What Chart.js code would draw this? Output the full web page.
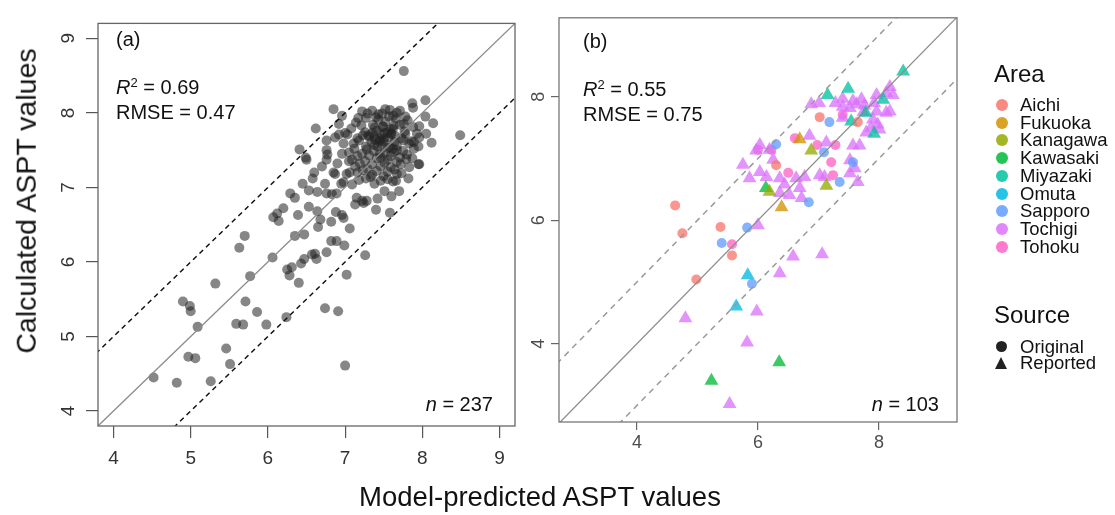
<!DOCTYPE html>
<html>
<head>
<meta charset="utf-8">
<script src="https://cdn.jsdelivr.net/npm/chart.js@4/dist/chart.umd.min.js"></script>
<style>
  body { margin: 0; background: #fff; }
  #wrap { position: relative; width: 1115px; height: 515px; font-family: "Liberation Sans", Arial, sans-serif; color: #111; }
  canvas { position: absolute; left: 0; top: 0; }
  .txt { position: absolute; white-space: nowrap; line-height: 1; }
  .ann { font-size: 20px; }
  .ann sup { font-size: 13px; vertical-align: 7px; line-height: 0; }
  .lg { font-size: 18.5px; }
  .lgt { font-size: 24px; }
  .dot { position: absolute; width: 12px; height: 12px; border-radius: 50%; }
  .tri { position: absolute; width: 0; height: 0; border-left: 6.5px solid transparent; border-right: 6.5px solid transparent; border-bottom: 12px solid #222; }
</style>
</head>
<body>
<div id="wrap">
  <canvas id="chartA" width="1115" height="515"></canvas>
  <canvas id="chartB" width="1115" height="515"></canvas>
</div>
<script>
// panel (a): all samples
const predA = [
  4.52, 4.82, 5.26, 4.97, 5.06, 5.46, 5.51, 7.00, 4.90, 4.99, 5.00, 5.09, 5.32, 5.71, 5.59, 5.68,
  5.86, 5.98, 6.24, 6.74, 6.91, 7.02, 7.26, 5.77, 6.06, 5.63, 5.70, 6.25, 6.31, 6.28, 6.40, 6.43,
  6.47, 6.57, 6.61, 6.63, 6.76, 6.35, 6.47, 6.82, 6.89, 6.99, 7.06, 6.65, 6.82,
  6.29, 6.53, 6.64, 6.74, 6.76, 6.83, 6.89, 6.53, 6.64, 6.68, 6.12, 6.07, 6.14, 6.39, 6.88, 6.96,
  6.98, 7.15, 7.24, 7.22, 7.28, 7.13, 7.42, 7.51, 7.58, 7.38, 7.33, 7.09, 6.98, 7.02, 6.85, 6.87,
  7.62, 7.66, 7.67, 7.95, 6.50, 6.76,
  7.76, 7.87, 8.04, 6.85, 6.96, 6.62, 6.41, 6.49, 7.17, 7.58, 7.29, 7.43, 7.67, 7.78, 8.04, 8.14,
  7.96, 8.49, 7.96, 7.89, 7.87, 7.96, 6.76, 6.76, 6.77, 6.87, 6.92, 6.98, 6.96, 7.06,
  7.22, 7.35, 7.48, 7.52, 7.62, 7.71, 7.40,
  7.14, 7.27, 7.36, 7.43, 7.57, 7.63, 7.66, 7.76, 7.81, 7.49,
  7.08, 7.21, 7.26, 7.38, 7.41, 7.49, 7.51, 7.59, 7.62, 7.71, 7.77, 7.88, 7.93,
  7.03, 7.16, 7.23, 7.31, 7.35, 7.45, 7.47, 7.56, 7.59, 7.65, 7.73, 7.78, 7.86,
  7.11, 7.18, 7.27, 7.34, 7.39, 7.47, 7.50, 7.58, 7.64, 7.67, 7.76, 7.83, 7.89,
  7.05, 7.12, 7.22, 7.28, 7.37, 7.42, 7.51, 7.55, 7.63, 7.67, 7.75, 7.80,
  7.09, 7.16, 7.26, 7.31, 7.41, 7.46, 7.55, 7.59, 7.67, 7.71, 7.79,
  7.13, 7.19, 7.29, 7.35, 7.46, 7.51, 7.59, 7.64, 7.72, 7.83,
  7.16, 7.23, 7.35, 7.41, 7.50, 7.55, 7.73,
  7.18, 7.27, 7.46, 7.55, 7.82,
  6.70, 6.60, 6.45, 6.58, 7.95, 8.05, 8.12, 7.88, 6.92, 7.00, 6.35, 6.20, 7.60, 7.70, 7.40, 6.90,
  7.05, 6.95, 7.38, 7.50, 7.45, 7.30, 7.60, 7.45, 7.55, 7.38, 7.62, 7.52
];
const calcA = [
  4.45, 4.38, 4.40, 4.73, 4.71, 4.84, 4.63, 4.61, 5.47, 5.41, 5.34, 5.13, 5.71, 5.47, 5.17, 5.16,
  5.33, 5.16, 5.26, 5.38, 5.34, 5.83, 6.09, 5.81, 6.06, 6.19, 6.35, 5.90, 5.93, 5.82, 5.72, 5.98,
  6.04, 6.10, 6.11, 6.04, 6.13, 6.35, 6.37, 6.28, 6.28, 6.22, 6.45, 6.47, 6.54,
  6.92, 6.96, 6.94, 7.05, 6.92, 6.91, 6.92, 6.74, 6.68, 6.57, 6.65, 6.60, 6.55, 6.63, 6.67, 6.63,
  6.59, 6.86, 6.79, 6.82, 6.82, 6.77, 6.85, 6.95, 6.66, 7.05, 7.14, 7.04, 7.07, 7.18, 7.20, 7.18,
  7.08, 7.09, 7.18, 7.31, 7.37, 7.37,
  8.56, 8.13, 8.17, 8.05, 7.96, 7.79, 7.51, 7.40, 7.93, 8.04, 7.99, 7.98, 8.00, 7.95, 7.95, 7.86,
  7.82, 7.70, 7.67, 7.52, 7.39, 7.31, 7.63, 7.50, 7.44, 7.67, 7.71, 7.59, 7.45, 7.20,
  8.02, 8.03, 7.99, 8.05, 7.96, 8.03, 7.94,
  7.87, 7.93, 7.84, 7.91, 7.95, 7.83, 7.92, 7.85, 7.90, 7.81,
  7.79, 7.83, 7.74, 7.80, 7.76, 7.82, 7.73, 7.78, 7.79, 7.84, 7.75, 7.81, 7.72,
  7.71, 7.66, 7.70, 7.68, 7.73, 7.65, 7.71, 7.67, 7.72, 7.69, 7.66, 7.72, 7.62,
  7.59, 7.63, 7.55, 7.61, 7.64, 7.58, 7.62, 7.54, 7.61, 7.56, 7.63, 7.59, 7.61,
  7.47, 7.52, 7.45, 7.51, 7.49, 7.55, 7.46, 7.53, 7.47, 7.50, 7.49, 7.44,
  7.37, 7.42, 7.35, 7.43, 7.39, 7.40, 7.37, 7.42, 7.34, 7.40, 7.38,
  7.28, 7.32, 7.25, 7.31, 7.28, 7.33, 7.27, 7.24, 7.31, 7.27,
  7.20, 7.23, 7.17, 7.22, 7.15, 7.21, 7.19,
  7.10, 7.12, 7.09, 7.11, 7.12,
  7.28, 7.20, 7.05, 7.12, 7.55, 7.72, 7.60, 8.07, 7.85, 7.73, 6.86, 6.72, 6.88, 6.95, 6.70, 7.32,
  7.35, 7.05, 7.57, 7.65, 7.45, 7.70, 7.72, 7.62, 7.74, 7.68, 7.52, 7.88
];

// panel (b): subset by area and source
const areaNames = ["Aichi", "Fukuoka", "Kanagawa", "Kawasaki", "Miyazaki", "Omuta", "Sapporo", "Tochigi", "Tohoku"];
const areaColors = ["#F8766D", "#D39200", "#93AA00", "#00BA38", "#00C19F", "#00B9E3", "#619CFF", "#DB72FB", "#FF61C3"];
const sourceNames = ["Original", "Reported"];

const predB = [
  4.63, 4.75, 5.38, 6.30, 7.02, 7.65, 5.57, 4.98,
  7.18, 6.30, 7.09, 7.57, 7.35, 6.84, 5.82, 5.40, 5.90,
  7.40, 6.61, 6.98, 7.28, 7.21, 7.24, 6.50, 6.00, 6.22, 5.57,
  6.69, 6.39,
  6.88, 7.13, 6.19,
  6.13, 5.23, 6.35,
  8.40, 7.49, 7.15, 8.07, 7.78, 7.54, 7.92,
  5.83, 5.64,
  6.88, 7.01, 7.40, 7.52, 7.71, 7.57, 7.40, 7.76, 7.74, 7.96, 8.18, 8.23, 8.12, 7.96, 8.12, 8.18,
  7.90, 7.98, 7.87, 7.79, 8.01, 7.40, 6.85, 7.13, 6.03, 6.19, 5.97, 7.57, 7.68, 5.75, 6.03, 5.86,
  6.14, 6.36, 6.63, 6.77, 7.02, 7.10, 7.52, 7.60, 7.65, 7.52, 6.69, 6.52, 6.72, 6.36,
  6.00, 6.58, 7.06, 6.36, 5.98, 4.80, 5.82, 5.53, 6.44, 7.28, 7.63, 6.25, 7.92
];
const calcB = [
  6.24, 5.79, 5.89, 6.89, 7.67, 7.59, 5.43, 5.04,
  7.59, 7.23, 7.10, 6.94, 6.62, 6.29, 5.88, 5.63, 4.97,
  7.71, 7.33, 7.22, 7.22, 6.94, 6.73, 6.77, 7.14, 7.14, 5.61,
  7.31, 6.21,
  7.13, 6.56, 6.46,
  6.52, 3.40, 3.70,
  8.41, 8.13, 8.03, 7.95, 7.74, 7.60, 7.40,
  5.11, 4.60,
  7.88, 7.90, 7.84, 7.82, 7.96, 7.93, 7.97, 7.86, 7.75, 8.03, 8.16, 8.03, 8.06, 7.76, 7.74, 7.76,
  7.63, 7.55, 7.50, 7.42, 7.47, 7.66, 7.37, 7.26, 7.22, 7.14, 7.13, 7.21, 7.21, 6.90, 6.78, 6.68,
  6.70, 6.68, 6.68, 6.70, 6.73, 6.70, 6.97, 6.84, 6.62, 6.76, 6.52, 6.41, 6.36, 6.44,
  5.92, 5.41, 5.45, 5.14, 4.52, 4.41, 4.02, 3.02, 6.58, 7.90, 7.88, 6.98, 7.90
];
const areaB = [].concat(
  Array(8).fill("Aichi"), Array(9).fill("Sapporo"), Array(10).fill("Tohoku"),
  Array(2).fill("Fukuoka"), Array(3).fill("Kanagawa"), Array(3).fill("Kawasaki"),
  Array(7).fill("Miyazaki"), Array(2).fill("Omuta"), Array(59).fill("Tochigi")
);
const sourceB = [].concat(Array(27).fill("Original"), Array(76).fill("Reported"));

const xTicksA = [4, 5, 6, 7, 8, 9];
const yTicksA = [4, 5, 6, 7, 8, 9];
const ticksB = [4, 6, 8];
const bandOffsets = [0, 1, -1];
const lineEnds = [0, 12];

const family = '"Liberation Sans", Arial, sans-serif';

const framePlugin = {
  id: 'frame',
  afterDatasetsDraw(chart, args, opts) {
    const { ctx, chartArea: a } = chart;
    ctx.save();
    ctx.strokeStyle = opts.color;
    ctx.lineWidth = 1.3;
    ctx.strokeRect(a.left, a.top, a.width, a.height);
    ctx.restore();
  }
};

function refLines(solidColor, dashColor, dash) {
  return bandOffsets.map(off => ({
    data: lineEnds.map(v => ({ x: v, y: v + off })),
    showLine: true,
    pointRadius: 0,
    borderColor: off === 0 ? solidColor : dashColor,
    borderWidth: off === 0 ? 1.3 : 1.5,
    borderDash: off === 0 ? [] : dash
  }));
}

function axis(min, max, vals, size, opts) {
  return {
    type: 'linear', min, max,
    afterBuildTicks: s => { s.ticks = vals.map(v => ({ value: v })); },
    afterFit: s => { if (s.isHorizontal()) s.height = size; else s.width = size; },
    grid: { drawOnChartArea: false, tickLength: opts.tl, color: opts.tickColor, lineWidth: 1.2 },
    border: { display: false },
    ticks: Object.assign({ color: opts.labelColor, font: { size: opts.fs, family } }, opts.ticks)
  };
}

Chart.defaults.animation = false;

// chart (a)
new Chart(document.getElementById('chartA'), {
  type: 'scatter',
  data: {
    datasets: refLines('#8c8c8c', '#111', [5, 4]).concat([{
      data: predA.map((x, i) => ({ x, y: calcA[i] })),
      backgroundColor: 'rgba(35,35,35,0.55)',
      borderWidth: 0,
      pointRadius: 5
    }])
  },
  options: {
    responsive: false,
    devicePixelRatio: 1,
    layout: { padding: { left: 58, right: 600, top: 9, bottom: 44 } },
    plugins: { legend: { display: false }, tooltip: { enabled: false }, frame: { color: '#666' } },
    scales: {
      x: axis(3.8, 9.2, xTicksA, 45, { tl: 12, tickColor: '#555', labelColor: '#333', fs: 19, ticks: { padding: 9, maxRotation: 0 } }),
      y: axis(3.8, 9.2, yTicksA, 40, { tl: 12, tickColor: '#555', labelColor: '#333', fs: 19, ticks: { padding: 12, minRotation: 90, maxRotation: 90, crossAlign: 'center' } })
    }
  },
  plugins: [framePlugin]
});

// chart (b)
const dsB = areaNames.map((name, k) => {
  const idx = areaB.map((a, i) => a === name ? i : -1).filter(i => i >= 0);
  return {
    data: idx.map(i => ({ x: predB[i], y: calcB[i] })),
    pointStyle: idx.map(i => sourceB[i] === "Reported" ? 'triangle' : 'circle'),
    pointRadius: idx.map(i => sourceB[i] === "Reported" ? 8 : 5),
    backgroundColor: areaColors[k] + 'C4',
    borderWidth: 0
  };
});

new Chart(document.getElementById('chartB'), {
  type: 'scatter',
  data: { datasets: refLines('#8c8c8c', '#9a9a9a', [6, 5]).concat(dsB) },
  options: {
    responsive: false,
    devicePixelRatio: 1,
    layout: { padding: { left: 519, right: 158, top: 9, bottom: 48 } },
    plugins: { legend: { display: false }, tooltip: { enabled: false }, frame: { color: '#777' } },
    scales: {
      x: axis(2.71, 9.29, ticksB, 45, { tl: 8, tickColor: '#666', labelColor: '#4d4d4d', fs: 18, ticks: { padding: 2, maxRotation: 0 } }),
      y: axis(2.73, 9.28, ticksB, 40, { tl: 8, tickColor: '#666', labelColor: '#4d4d4d', fs: 18, ticks: { padding: 7, minRotation: 90, maxRotation: 90, crossAlign: 'center' } })
    }
  },
  plugins: [framePlugin]
});

// text overlays
const wrap = document.getElementById('wrap');
function put(html, cls, x, y, align, style) {
  const d = document.createElement('div');
  d.className = 'txt ' + cls;
  d.innerHTML = html;
  d.style.left = x + 'px';
  d.style.top = y + 'px';
  const tx = align === 'right' ? '-100%' : align === 'center' ? '-50%' : '0';
  d.style.transform = 'translate(' + tx + ',-50%)' + (style || '');
  wrap.appendChild(d);
  return d;
}

put('(a)', 'ann', 116, 39);
put('<i>R</i><sup>2</sup> = 0.69', 'ann', 116, 87);
put('RMSE = 0.47', 'ann', 116, 112);
put('<i>n</i> = 237', 'ann', 493, 404, 'right');

put('(b)', 'ann', 583, 41);
put('<i>R</i><sup>2</sup> = 0.55', 'ann', 583, 89);
put('RMSE = 0.75', 'ann', 583, 114);
put('<i>n</i> = 103', 'ann', 939, 404, 'right');

put('Model-predicted ASPT values', '', 540, 497, 'center').style.fontSize = '27.5px';
const yt = put('Calculated ASPT values', '', 26, 201, 'center', ' rotate(-90deg)');
yt.style.fontSize = '28.5px';

// legend
put('Area', 'lgt', 994, 74);
areaNames.forEach((name, i) => {
  const cy = 105 + i * 17.7;
  const d = document.createElement('div');
  d.className = 'dot';
  d.style.left = '996px';
  d.style.top = (cy - 6) + 'px';
  d.style.background = areaColors[i];
  d.style.opacity = 0.85;
  wrap.appendChild(d);
  put(name, 'lg', 1020, cy);
});
put('Source', 'lgt', 994, 315);
sourceNames.forEach((name, i) => {
  const cy = 346.5 + i * 16.5;
  const d = document.createElement('div');
  if (name === 'Original') {
    d.className = 'dot';
    d.style.left = '996px';
    d.style.top = (cy - 5.5) + 'px';
    d.style.width = '11px';
    d.style.height = '11px';
    d.style.background = '#222';
  } else {
    d.className = 'tri';
    d.style.left = '995px';
    d.style.top = (cy - 6.5) + 'px';
  }
  wrap.appendChild(d);
  put(name, 'lg', 1020, cy);
});
</script>
</body>
</html>
